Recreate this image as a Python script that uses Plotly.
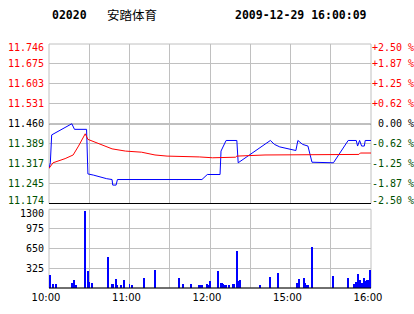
import plotly.graph_objects as go

# ---------------- data ----------------
# minutes since 10:00 (0..150 = 10:00-12:30, 150..240 = 14:30-16:00)
price_t = [0, 1, 2, 17, 19, 28, 29, 33, 43, 47, 47.5, 50, 51, 114, 118, 127.5, 128.2, 132,
           140, 141, 165, 168, 172, 178, 184, 185.5, 189, 193, 196, 212, 223, 229, 230,
           231.5, 233, 235, 235.7, 240]
price_v = [11.30, 11.32, 11.42, 11.46, 11.44, 11.44, 11.28, 11.276, 11.263, 11.26, 11.24, 11.24,
           11.26, 11.26, 11.278, 11.278, 11.362, 11.40, 11.40, 11.32, 11.40, 11.386, 11.377,
           11.371, 11.364, 11.40, 11.386, 11.38, 11.322, 11.32, 11.40, 11.40, 11.38, 11.40,
           11.38, 11.38, 11.40, 11.40]

avg_t = [0, 3, 12, 18, 22, 27, 29, 34, 43, 47, 57, 69, 79, 88, 112, 122, 139, 140, 161,
         187, 188, 231, 232, 240]
avg_v = [11.30, 11.32, 11.335, 11.348, 11.38, 11.424, 11.404, 11.395, 11.376, 11.37, 11.362,
         11.358, 11.348, 11.344, 11.341, 11.338, 11.34, 11.344, 11.348, 11.348, 11.35, 11.35,
         11.355, 11.355]

vol_t = [1, 3, 5, 17, 19, 20, 27, 29, 30, 32, 44, 47, 48, 50, 51, 54, 56, 60, 62, 71, 79, 97,
         100, 106, 112, 113, 114, 118, 119, 120, 126, 128, 129, 130, 131, 132, 134, 137, 138,
         140, 141, 142, 157, 165, 171, 185, 186, 190, 191, 192, 193, 196, 212, 223, 227, 229,
         230, 231, 232, 233, 234, 235, 236, 237, 238, 239, 240]
vol_v = [202, 54, 54, 71, 120, 40, 1261, 268, 92, 71, 504, 54, 54, 137, 40, 40, 120, 54, 40,
         153, 285, 153, 54, 54, 40, 40, 40, 54, 40, 104, 268, 71, 71, 54, 40, 40, 40, 54, 54,
         614, 104, 120, 40, 170, 236, 71, 137, 153, 71, 40, 40, 680, 186, 153, 54, 87, 219, 54,
         120, 71, 54, 153, 104, 120, 120, 285, 71]

price_ticks = [11.174, 11.245, 11.317, 11.389, 11.460, 11.531, 11.603, 11.675, 11.746]
price_labels = ["11.174", "11.245", "11.317", "11.389", "11.460", "11.531", "11.603", "11.675", "11.746"]
pct_ticks = [-2.5, -1.875, -1.25, -0.625, 0, 0.625, 1.25, 1.875, 2.5]
pct_labels = ["-2.50 %", "-1.87 %", "-1.25 %", "-0.62 %", "\u00a00.00 %", "+0.62 %", "+1.25 %", "+1.87 %", "+2.50 %"]
vol_ticks = [325, 650, 975, 1300]
vol_labels = ["325", "650", "975", "1300"]
time_ticks = [0, 30, 60, 90, 120, 150, 180, 210, 240]
time_labels = ["10:00", "", "11:00", "", "12:00", "", "15:00", "", "16:00"]

PRE_CLOSE = 11.460
RED, GREEN, BLACK, GRID = "#ff0000", "#005000", "#000000", "#c0c0c0"
mono = "DejaVu Sans Mono"


def color_of(val, ref):
    return RED if val > ref + 1e-9 else (GREEN if val < ref - 1e-9 else BLACK)


def colored(text, val, ref):
    return f"<span style='color:{color_of(val, ref)}'>{text}</span>"


# inner labels on the axes, edge labels as annotations nudged inside the panel
price_text = [colored(l, v, PRE_CLOSE) for l, v in zip(price_labels, price_ticks)]
price_text[0] = ""
price_text[-1] = ""
pct_text = [colored(l, v, 0) for l, v in zip(pct_labels, pct_ticks)]
pct_text[0] = ""
pct_text[-1] = ""
vol_text = list(vol_labels)
vol_text[-1] = ""

fig = go.Figure()
fig.add_trace(go.Scatter(x=price_t, y=price_v, mode="lines", line=dict(color="#0000ff", width=1),
                         xaxis="x", yaxis="y", hoverinfo="skip"))
fig.add_trace(go.Scatter(x=avg_t, y=avg_v, mode="lines", line=dict(color="#ff0000", width=1),
                         xaxis="x", yaxis="y", hoverinfo="skip"))
fig.add_trace(go.Scatter(x=[0, 240], y=[-2.5, 2.5], mode="lines", line=dict(width=0),
                         opacity=0, xaxis="x", yaxis="y3", hoverinfo="skip"))
fig.add_trace(go.Bar(x=vol_t, y=vol_v, width=0.75, marker=dict(color="#0000ff", line=dict(width=0)),
                     xaxis="x2", yaxis="y2", hoverinfo="skip"))

annotations = [
    dict(text="<b>02020</b>", xref="paper", yref="paper", x=0.003, y=1.119, xanchor="left",
         yanchor="middle", showarrow=False, font=dict(family=mono, size=11.5, color=BLACK)),
    dict(text="安踏体育", xref="paper", yref="paper", x=0.174, y=1.119, xanchor="left",
         yanchor="middle", showarrow=False, font=dict(family="Noto Sans CJK SC", size=12.5, color=BLACK)),
    dict(text="<b>2009-12-29 16:00:09</b>", xref="paper", yref="paper", x=0.9947, y=1.119,
         xanchor="right", yanchor="middle", showarrow=False,
         font=dict(family=mono, size=11.5, color=BLACK)),
]
# edge labels (nudged inward like the reference)
for idx, shift in ((0, 3.5), (-1, -3)):
    annotations.append(dict(text=price_labels[idx], xref="paper", yref="y", x=0, y=price_ticks[idx],
                            xanchor="right", yanchor="middle", xshift=-4, yshift=shift, showarrow=False,
                            borderpad=0, font=dict(family=mono, size=10,
                                                   color=color_of(price_ticks[idx], PRE_CLOSE))))
    annotations.append(dict(text=pct_labels[idx], xref="paper", yref="y3", x=1, y=pct_ticks[idx],
                            xanchor="left", yanchor="middle", xshift=0, yshift=shift, showarrow=False,
                            borderpad=0, font=dict(family=mono, size=10,
                                                   color=color_of(pct_ticks[idx], 0))))
annotations.append(dict(text=vol_labels[-1], xref="paper", yref="y2", x=0, y=vol_ticks[-1],
                        xanchor="right", yanchor="middle", xshift=-4, yshift=-4, showarrow=False,
                        borderpad=0, font=dict(family=mono, size=10, color=BLACK)))

fig.update_layout(
    width=414, height=314, showlegend=False,
    margin=dict(l=49, r=43, t=44, b=26, autoexpand=False),
    paper_bgcolor="white", plot_bgcolor="white",
    bargap=0,
    xaxis=dict(domain=[0, 1], anchor="y", range=[0, 240], tickvals=time_ticks, showticklabels=False,
               showgrid=True, gridcolor=GRID, gridwidth=1, zeroline=False, ticks="", automargin=False),
    yaxis=dict(domain=[0.3463, 1], anchor="x", range=[11.174, 11.746], tickvals=price_ticks,
               ticktext=price_text, tickfont=dict(family=mono, size=10, color=BLACK), showgrid=True,
               gridcolor=GRID, gridwidth=1, zeroline=False, ticks="", ticklabelstandoff=4,
               automargin=False),
    yaxis3=dict(overlaying="y", side="right", anchor="x", range=[-2.5, 2.5], tickvals=pct_ticks,
                ticktext=pct_text, tickfont=dict(family=mono, size=10, color=BLACK), showgrid=False,
                zeroline=False, ticks="", ticklabelstandoff=0, automargin=False),
    xaxis2=dict(domain=[0, 1], anchor="y2", range=[0, 240], tickvals=time_ticks, ticktext=time_labels,
                tickfont=dict(family="DejaVu Sans", size=10, color=BLACK), showgrid=True,
                gridcolor=GRID, gridwidth=1, zeroline=False, ticks="", ticklabelshift=-3,
                ticklabelstandoff=2, automargin=False),
    yaxis2=dict(domain=[0, 0.3225], anchor="x2", range=[0, 1300], tickvals=vol_ticks, ticktext=vol_text,
                tickfont=dict(family=mono, size=10, color=BLACK), showgrid=True, gridcolor=GRID,
                gridwidth=1, zeroline=False, ticks="", ticklabelstandoff=4, automargin=False),
    shapes=[
        dict(type="rect", xref="x domain", yref="y domain", x0=0, x1=1, y0=0, y1=1,
             line=dict(color=GRID, width=1), layer="below"),
        dict(type="rect", xref="x2 domain", yref="y2 domain", x0=0, x1=1, y0=0, y1=1,
             line=dict(color=GRID, width=1), layer="below"),
        dict(type="line", xref="x domain", yref="y", x0=0, x1=1, y0=PRE_CLOSE, y1=PRE_CLOSE,
             line=dict(color=BLACK, width=1), layer="below"),
        dict(type="line", xref="x domain", yref="y domain", x0=0, x1=1, y0=0, y1=0,
             line=dict(color=BLACK, width=1)),
        dict(type="line", xref="x2 domain", yref="y2 domain", x0=0, x1=1, y0=0, y1=0,
             line=dict(color=BLACK, width=1)),
    ],
    annotations=annotations,
)

fig.write_html("out.html")
